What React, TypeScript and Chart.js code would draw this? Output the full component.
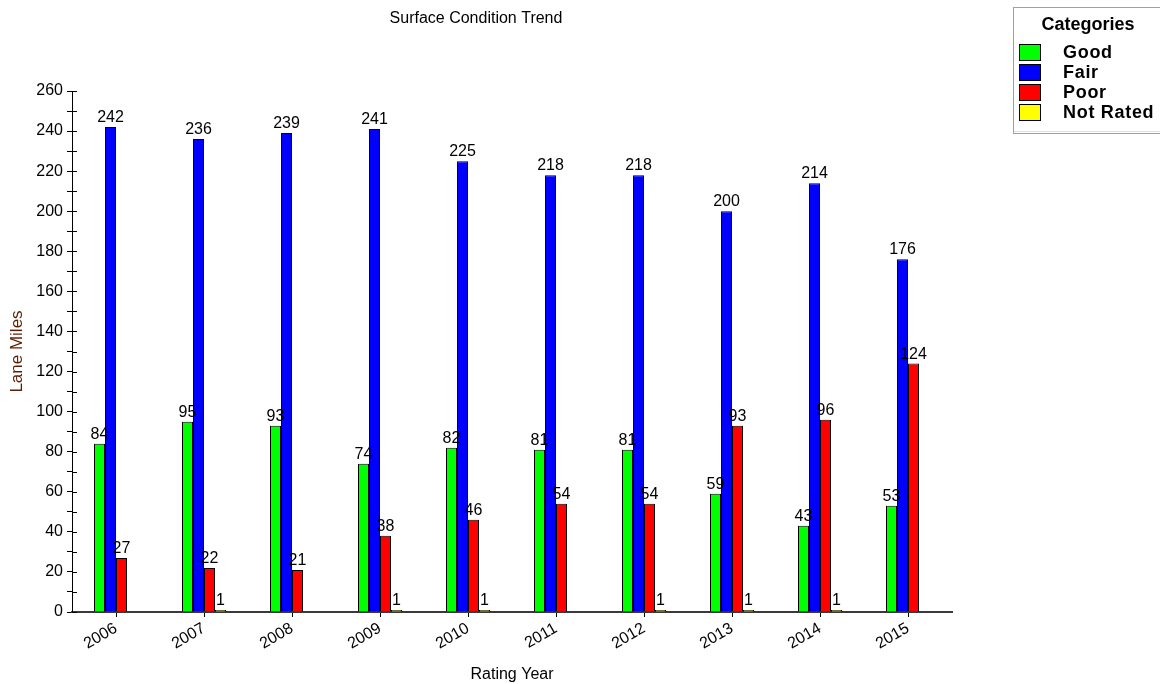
import React, { useEffect, useRef } from 'react';
import { Chart, registerables } from 'chart.js';

Chart.register(...registerables);

const years = ['2006', '2007', '2008', '2009', '2010', '2011', '2012', '2013', '2014', '2015'];
const good = [84, 95, 93, 74, 82, 81, 81, 59, 43, 53];
const fair = [242, 236, 239, 241, 225, 218, 218, 200, 214, 176];
const poor = [27, 22, 21, 38, 46, 54, 54, 93, 96, 124];
const notRated = [null, 1, null, 1, 1, null, 1, 1, 1, null];
const seriesNames = ['Good', 'Fair', 'Poor', 'Not Rated'];
const seriesColors = ['#00ff00', '#0000ff', '#ff0000', '#ffff00'];
const yMax = 260;
const yStep = 10;
const yLabelStep = 20;
const chartTitle = 'Surface Condition Trend';
const xTitle = 'Rating Year';
const yTitle = 'Lane Miles';
const legendTitle = 'Categories';

const FONT = '"Liberation Sans", Arial, sans-serif';

const valueLabelPlugin = {
  id: 'valueLabels',
  afterDatasetsDraw(chart: any) {
    const ctx = chart.ctx;
    ctx.save();
    ctx.font = `16px ${FONT}`;
    ctx.fillStyle = '#000';
    ctx.textAlign = 'center';
    ctx.textBaseline = 'alphabetic';
    chart.data.datasets.forEach((ds: any, di: number) => {
      const meta = chart.getDatasetMeta(di);
      meta.data.forEach((el: any, i: number) => {
        const v = ds.data[i];
        if (v === null || v === undefined) return;
        ctx.fillText(String(v), el.x, el.y - 5);
      });
    });
    ctx.restore();
  },
};

const decorPlugin = {
  id: 'decor',
  afterDraw(chart: any) {
    const ctx = chart.ctx;
    const area = chart.chartArea;
    const yScale = chart.scales.y;
    ctx.save();
    // inner halves of y tick marks
    ctx.strokeStyle = '#000';
    ctx.lineWidth = 1;
    yScale.ticks.forEach((t: any) => {
      const py = Math.round(yScale.getPixelForValue(t.value)) + 0.5;
      ctx.beginPath();
      ctx.moveTo(area.left, py);
      ctx.lineTo(area.left + 5, py);
      ctx.stroke();
    });
    // chart title
    ctx.fillStyle = '#000';
    ctx.font = `16px ${FONT}`;
    ctx.textAlign = 'center';
    ctx.textBaseline = 'middle';
    ctx.fillText(chartTitle, 476, 19);
    // legend box
    ctx.strokeStyle = '#a0a0a0';
    ctx.strokeRect(1013.5, 7.5, 150, 126);
    ctx.strokeStyle = '#e0e0e0';
    ctx.beginPath();
    ctx.moveTo(1014, 131.5);
    ctx.lineTo(1160, 131.5);
    ctx.stroke();
    ctx.font = `bold 18px ${FONT}`;
    ctx.fillStyle = '#000';
    ctx.textAlign = 'center';
    ctx.fillText(legendTitle, 1088, 25);
    ctx.textAlign = 'left';
    (ctx as any).letterSpacing = '0.7px';
    seriesNames.forEach((name, i) => {
      const y = 44 + i * 20;
      ctx.fillStyle = seriesColors[i];
      ctx.fillRect(1019, y, 22, 17);
      ctx.strokeStyle = '#000';
      ctx.lineWidth = 1;
      ctx.strokeRect(1019.5, y + 0.5, 21, 16);
      ctx.fillStyle = '#000';
      ctx.fillText(name, 1063, y + 9);
    });
    (ctx as any).letterSpacing = '0px';
    ctx.restore();
  },
};

export default function App() {
  const ref = useRef<HTMLCanvasElement | null>(null);

  useEffect(() => {
    if (!ref.current) return;
    const series = [good, fair, poor, notRated];
    const chart = new Chart(ref.current, {
      type: 'bar',
      data: {
        labels: years,
        datasets: series.map((d, i) => ({
          label: seriesNames[i],
          data: d,
          backgroundColor: seriesColors[i],
          borderColor: '#000',
          borderWidth: 1,
          categoryPercentage: 0.5,
          barPercentage: 1,
        })),
      },
      options: {
        animation: false,
        responsive: false,
        maintainAspectRatio: false,
        layout: { padding: { top: 91, right: 208, left: 0, bottom: 0 } },
        plugins: {
          legend: { display: false },
          title: { display: false },
          tooltip: { enabled: false },
        },
        scales: {
          x: {
            grid: { drawOnChartArea: false, offset: false, tickLength: 5, color: '#000' },
            border: { color: '#3a3a3a', width: 2 },
            ticks: {
              minRotation: 30,
              maxRotation: 30,
              color: '#000',
              font: { size: 16, family: FONT },
              padding: 2,
            },
            title: {
              display: true,
              text: xTitle,
              color: '#000',
              font: { size: 16, family: FONT },
              padding: { top: 0, bottom: 0 },
            },
            afterFit(scale: any) {
              scale.height = 72;
            },
          },
          y: {
            min: 0,
            max: yMax,
            grid: { drawOnChartArea: false, tickLength: 5, color: '#000' },
            border: { color: '#000', width: 1 },
            ticks: {
              stepSize: yStep,
              autoSkip: false,
              color: '#000',
              font: { size: 16, family: FONT },
              padding: 4,
              callback: (v: any) => (Number(v) % yLabelStep === 0 ? String(v) : ''),
            },
            title: {
              display: true,
              text: yTitle,
              color: '#5a1e00',
              font: { size: 17, family: FONT },
              padding: { top: 7, bottom: 0 },
            },
            afterFit(scale: any) {
              scale.width = 72;
            },
          },
        },
      },
      plugins: [valueLabelPlugin, decorPlugin],
    });
    return () => chart.destroy();
  }, []);

  return (
    <div style={{ position: 'fixed', left: 0, top: 0, width: 1160, height: 684, background: '#fff' }}>
      <canvas ref={ref} width={1160} height={684} style={{ width: 1160, height: 684 }} />
    </div>
  );
}
